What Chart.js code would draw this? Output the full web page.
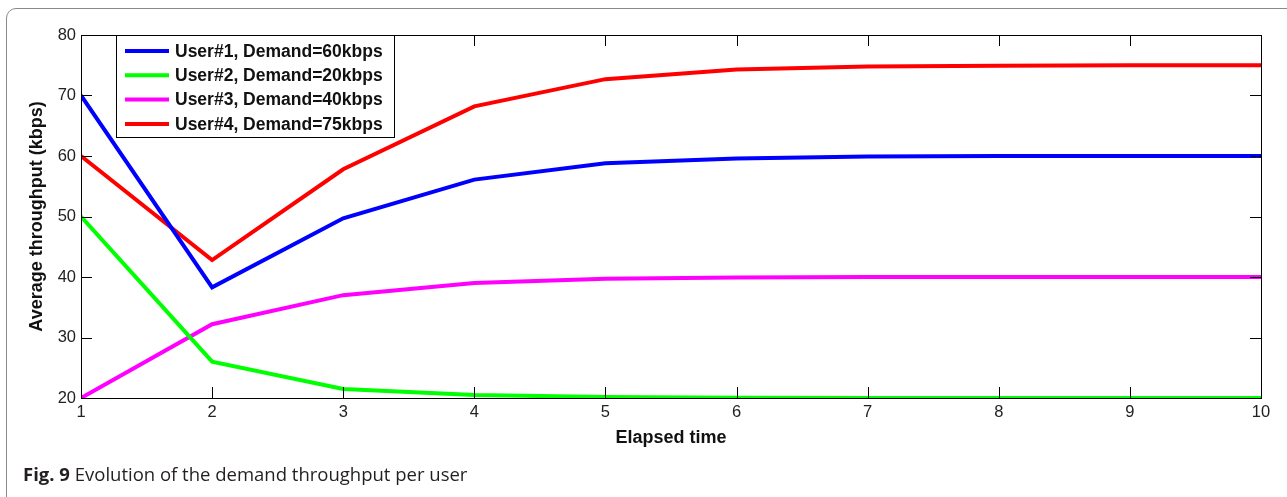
<!DOCTYPE html>
<html>
<head>
<meta charset="utf-8">
<script src="https://cdn.jsdelivr.net/npm/chart.js@4.4.1/dist/chart.umd.min.js"></script>
<style>
    html, body { margin: 0; padding: 0; background: #fff; }
    #wrap { position: relative; width: 1287px; height: 497px; overflow: hidden; }
    #frame {
        position: absolute; left: 6px; top: 8px; width: 1300px; height: 520px;
        border: 1px solid #8a8a8a; border-radius: 10px; box-sizing: border-box;
    }
    #chart { position: absolute; left: 0; top: 0; }
    #caption {
        position: absolute; left: 23px; top: 461px;
        font-family: "Open Sans", "Noto Sans", sans-serif; font-size: 18.5px; color: #231f20;
        white-space: nowrap;
    }
    #caption b { font-weight: bold; }
</style>
</head>
<body>
<div id="wrap">
    <div id="frame"></div>
    <canvas id="chart" width="1287" height="497"></canvas>
    <div id="caption"><b>Fig. 9</b> Evolution of the demand throughput per user</div>
</div>
<script>
// data
const elapsed = [1, 2, 3, 4, 5, 6, 7, 8, 9, 10];
const user1 = [70, 38.3, 49.7, 56.1, 58.8, 59.6, 59.9, 60, 60, 60];
const user2 = [50, 26, 21.5, 20.5, 20.15, 20.05, 20, 20, 20, 20];
const user3 = [20, 32.2, 37, 39, 39.7, 39.9, 40, 40, 40, 40];
const user4 = [60, 42.8, 57.8, 68.2, 72.7, 74.3, 74.8, 74.9, 75, 75];
const seriesNames = ['User#1, Demand=60kbps', 'User#2, Demand=20kbps', 'User#3, Demand=40kbps', 'User#4, Demand=75kbps'];
const seriesColors = ['#0000ff', '#00ff00', '#ff00ff', '#ff0000'];
const xTicks = [1, 2, 3, 4, 5, 6, 7, 8, 9, 10];
const yTicks = [20, 30, 40, 50, 60, 70, 80];

const allSeries = [user1, user2, user3, user4];
const datasets = allSeries.map((vals, i) => ({
    label: seriesNames[i],
    data: vals.map((v, k) => ({ x: elapsed[k], y: v })),
    borderColor: seriesColors[i],
    backgroundColor: seriesColors[i],
    borderWidth: 4,
    pointRadius: 0,
    tension: 0,
    fill: false
}));

const sans = '"Liberation Sans", Arial, sans-serif';

// box around the plot, inward ticks on all four sides, legend in upper left
const boxPlugin = {
    id: 'boxPlugin',
    afterDatasetsDraw(chart) {
        const { ctx, chartArea: a, scales } = chart;
        const tl = 11;
        ctx.save();
        ctx.strokeStyle = '#000';
        ctx.lineWidth = 1;
        ctx.beginPath();
        xTicks.forEach(t => {
            const px = Math.round(scales.x.getPixelForValue(t)) + 0.5;
            ctx.moveTo(px, a.bottom); ctx.lineTo(px, a.bottom - tl);
            ctx.moveTo(px, a.top); ctx.lineTo(px, a.top + tl);
        });
        yTicks.forEach(t => {
            const py = Math.round(scales.y.getPixelForValue(t)) + 0.5;
            ctx.moveTo(a.left, py); ctx.lineTo(a.left + tl, py);
            ctx.moveTo(a.right, py); ctx.lineTo(a.right - tl, py);
        });
        ctx.stroke();
        ctx.strokeRect(Math.round(a.left) + 0.5, Math.round(a.top) + 0.5,
            Math.round(a.right - a.left), Math.round(a.bottom - a.top));

        // legend
        const lx = 116, ly = 35, lw = 278, lh = 102;
        ctx.fillStyle = '#fff';
        ctx.fillRect(lx, ly, lw, lh);
        ctx.strokeRect(lx + 0.5, ly + 0.5, lw, lh);
        ctx.font = 'bold 17.5px ' + sans;
        ctx.textBaseline = 'middle';
        chart.data.datasets.forEach((ds, i) => {
            const y = ly + 16 + i * 24.3;
            ctx.strokeStyle = ds.borderColor;
            ctx.lineWidth = 4;
            ctx.beginPath();
            ctx.moveTo(lx + 9, y); ctx.lineTo(lx + 53, y);
            ctx.stroke();
            ctx.fillStyle = '#111';
            ctx.fillText(ds.label, lx + 59, y + 1);
        });
        ctx.restore();
    }
};

new Chart(document.getElementById('chart'), {
    type: 'line',
    data: { datasets },
    options: {
        responsive: false,
        animation: false,
        layout: { padding: { left: 0, top: 35, right: 26, bottom: 0 } },
        plugins: { legend: { display: false }, tooltip: { enabled: false } },
        scales: {
            x: {
                type: 'linear',
                min: 1, max: 10,
                afterFit: s => { s.height = 99; },
                afterBuildTicks: s => { s.ticks = xTicks.map(v => ({ value: v })); },
                grid: { display: false, drawTicks: false },
                border: { display: false },
                ticks: { color: '#222', padding: 5, font: { family: sans, size: 16.5 } },
                title: {
                    display: true, text: 'Elapsed time', color: '#111',
                    font: { family: sans, size: 18, weight: 'bold' },
                    padding: { top: 48, bottom: 48 }
                }
            },
            y: {
                type: 'linear',
                min: 20, max: 80,
                afterFit: s => { s.width = 81; },
                afterBuildTicks: s => { s.ticks = yTicks.map(v => ({ value: v })); },
                grid: { display: false, drawTicks: false },
                border: { display: false },
                ticks: { color: '#222', padding: 5, font: { family: sans, size: 16.5 } },
                title: {
                    display: true, text: 'Average throughput (kbps)', color: '#111',
                    font: { family: sans, size: 18, weight: 'bold' },
                    padding: { top: 26, bottom: 0 }
                }
            }
        }
    },
    plugins: [boxPlugin]
});
</script>
</body>
</html>
